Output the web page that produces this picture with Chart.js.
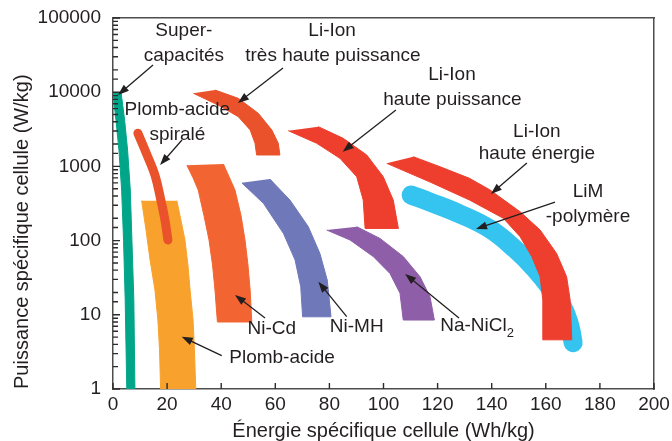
<!DOCTYPE html>
<html>
<head>
<meta charset="utf-8">
<script src="https://cdn.jsdelivr.net/npm/chart.js@4.4.1/dist/chart.umd.min.js"></script>
<style>
  html, body { margin: 0; padding: 0; background: #fff; }
  #wrap { width: 672px; height: 441px; }
</style>
</head>
<body>
<div id="wrap"><canvas id="ragone" width="672" height="441"></canvas></div>
<script>
// x : énergie spécifique (Wh/kg), y : puissance spécifique (W/kg)
const xTicks = [0, 20, 40, 60, 80, 100, 120, 140, 160, 180, 200];
const yTicks = [1, 10, 100, 1000, 10000, 100000];

// contours des zones : bord gauche de haut en bas, puis bord droit de bas en haut
const superCap = [[0, 9800], [1.1, 4200], [2.2, 1650], [3.2, 480], [3.9, 100], [4.5, 16], [5.1, 1],
  [8.1, 1], [7.7, 16], [7.0, 100], [6.4, 480], [5.4, 1650], [4.3, 4200], [3.0, 9800]];
const plombAcide = [[10.6, 345], [12.2, 139], [13.7, 55], [15.5, 21.6], [16.6, 8.5], [17.2, 3.4], [17.6, 1],
  [30.6, 1], [30.1, 3.4], [29.6, 8.5], [28.5, 21.6], [27.7, 47], [26.6, 102], [25.1, 190], [23.6, 345]];
const niCd = [[27.3, 1040], [29.6, 700], [31.5, 480], [33.6, 220], [35.5, 102], [36.8, 47], [37.7, 21.6], [38.6, 8],
  [51.3, 8], [50.7, 21.6], [49.9, 47], [48.8, 102], [47.3, 220], [45.1, 480], [40.8, 1080]];
const niMH = [[47.6, 600], [55.6, 318], [63, 125], [67.3, 55], [69.4, 24], [70.1, 9.4],
  [80.6, 9.4], [79.2, 29.4], [76.5, 67], [72.2, 154], [65.4, 352], [58, 676]];
const naNiCl2 = [[79, 139], [87.6, 102], [96.2, 61], [102.4, 36], [106.1, 19.5], [107.3, 8.5],
  [118.8, 8.5], [117.2, 17.5], [113.5, 32.6], [107.3, 61], [98.7, 107], [90.1, 154]];
const liIonTresHaute = [[29.7, 9660], [38.9, 6700], [46.3, 4680], [50.7, 3100], [52.5, 2050], [53.1, 1425],
  [61.7, 1425], [61.1, 2050], [58.7, 3100], [53.7, 5200], [46.3, 8270], [37.7, 10700]];
const liIonPuissance = [[64.8, 3030], [75.3, 2050], [83.9, 1285], [90.1, 726], [92.5, 352], [93.2, 146],
  [105.5, 146], [103.6, 352], [99.9, 726], [93.8, 1425], [85.1, 2390], [75.9, 3430]];
const liIonEnergie = [[111, 1350], [120.9, 990], [131.8, 690], [139.4, 481], [150.5, 245], [157.9, 139],
  [164, 67], [167.7, 32.6], [169, 15.8], [169.6, 4.6],
  [158.9, 4.6], [158.9, 15.8], [157.9, 32.6], [154.8, 61], [150.5, 113], [144.3, 200], [131.8, 352],
  [117.2, 616], [101.2, 1100]];

// bandes étroites : ligne médiane
const plombSpirale = [[9.2, 2800], [12.6, 1420], [15.5, 765], [17.7, 350], [19.2, 190], [20.3, 102]];
const limPolymere = [[110.2, 412], [117.2, 331], [128.3, 228], [139.4, 143], [148.6, 77], [156, 41.4],
  [161.9, 22.3], [166.4, 12.4], [168.9, 7.1], [170.1, 4.2]];

// étiquettes (centre du texte, en unités des axes)
const notes = [
  { text: 'Super-', x: 26.2, y: 66800 },
  { text: 'capacités', x: 26.2, y: 30760 },
  { text: 'Li-Ion', x: 81, y: 66800 },
  { text: 'très haute puissance', x: 81.3, y: 30760 },
  { text: 'Plomb-acide', x: 23.8, y: 5755 },
  { text: 'spiralé', x: 23.8, y: 2650 },
  { text: 'Li-Ion', x: 125.3, y: 17050 },
  { text: 'haute puissance', x: 125.5, y: 7850 },
  { text: 'Li-Ion', x: 156.7, y: 2953 },
  { text: 'haute énergie', x: 156.7, y: 1493 },
  { text: 'LiM', x: 175.6, y: 452 },
  { text: '-polymère', x: 175.6, y: 208 },
  { text: 'Ni-Cd', x: 58.7, y: 6.44 },
  { text: 'Ni-MH', x: 90.1, y: 6.85 },
  { text: 'Na-NiCl', sub: '2', x: 134.6, y: 7.06 },
  { text: 'Plomb-acide', x: 62.5, y: 2.62 }
];

// flèches : [x départ, y départ, x pointe, y pointe]
const arrows = [
  [14.8, 23270, 1.85, 9170],
  [62.85, 21190, 46.2, 7150],
  [25.5, 2270, 17.4, 1045],
  [104.6, 5755, 84.9, 1578],
  [153, 1111, 139.7, 425],
  [163.4, 331, 134.2, 143],
  [56.2, 9.06, 45.1, 18.5],
  [40.2, 2.81, 25.4, 5.07],
  [86.4, 9.43, 75.9, 27.9],
  [127.9, 9.06, 108, 35.5]
];

const ink = '#231f20';
const frame = '#4d4d4d';
const fontFamily = '"Liberation Sans", Arial, sans-serif';

function pts(list) {
  return list.map(([x, y]) => ({ x, y }));
}

function zone(label, list, color, order) {
  return {
    label, data: pts(list), showLine: true, fill: 'shape', order: order || 1,
    backgroundColor: color, borderColor: color, borderWidth: 1, pointRadius: 0, tension: 0
  };
}

function ribbon(label, list, color, width, order) {
  return {
    label, data: pts(list), showLine: true, fill: false, order: order || 1,
    borderColor: color, borderWidth: width, borderCapStyle: 'round', borderJoinStyle: 'round',
    pointRadius: 0, tension: 0.4
  };
}

function isMajor(v) {
  return yTicks.some(k => Math.abs(k - v) < k * 1e-6);
}

// graduations tournées vers l'intérieur, flèches et étiquettes
const notesPlugin = {
  id: 'notes',
  afterDatasetsDraw(chart) {
    const { ctx, chartArea } = chart;
    const xs = chart.scales.x, ys = chart.scales.y;
    ctx.save();

    ctx.strokeStyle = '#2b2b2b';
    ctx.lineWidth = 1.4;
    ctx.beginPath();
    xs.ticks.forEach(t => {
      const px = xs.getPixelForValue(t.value);
      ctx.moveTo(px, chartArea.bottom);
      ctx.lineTo(px, chartArea.bottom - 6);
    });
    ys.ticks.forEach(t => {
      const py = ys.getPixelForValue(t.value);
      const len = isMajor(t.value) ? 7 : 5;
      ctx.moveTo(chartArea.left, py);
      ctx.lineTo(chartArea.left + len, py);
    });
    ctx.stroke();

    ctx.strokeStyle = ink;
    ctx.fillStyle = ink;
    ctx.lineWidth = 1.3;
    arrows.forEach(a => {
      const x1 = xs.getPixelForValue(a[0]), y1 = ys.getPixelForValue(a[1]);
      const x2 = xs.getPixelForValue(a[2]), y2 = ys.getPixelForValue(a[3]);
      const ang = Math.atan2(y2 - y1, x2 - x1);
      const c = Math.cos(ang), s = Math.sin(ang);
      ctx.beginPath();
      ctx.moveTo(x1, y1);
      ctx.lineTo(x2 - 8 * c, y2 - 8 * s);
      ctx.stroke();
      ctx.beginPath();
      ctx.moveTo(x2, y2);
      ctx.lineTo(x2 - 11 * c - 4 * s, y2 - 11 * s + 4 * c);
      ctx.lineTo(x2 - 11 * c + 4 * s, y2 - 11 * s - 4 * c);
      ctx.closePath();
      ctx.fill();
    });

    ctx.textBaseline = 'middle';
    notes.forEach(n => {
      const cx = xs.getPixelForValue(n.x), cy = ys.getPixelForValue(n.y);
      ctx.font = '19px ' + fontFamily;
      if (!n.sub) {
        ctx.textAlign = 'center';
        ctx.fillText(n.text, cx, cy);
        return;
      }
      const w1 = ctx.measureText(n.text).width;
      ctx.font = '13px ' + fontFamily;
      const w2 = ctx.measureText(n.sub).width;
      const left = cx - (w1 + w2) / 2;
      ctx.textAlign = 'left';
      ctx.fillText(n.sub, left + w1, cy + 7);
      ctx.font = '19px ' + fontFamily;
      ctx.fillText(n.text, left, cy);
    });
    ctx.restore();
  }
};

Chart.defaults.font.family = fontFamily;
Chart.defaults.color = ink;

new Chart(document.getElementById('ragone'), {
  type: 'scatter',
  data: {
    datasets: [
      zone('Li-Ion haute énergie', liIonEnergie, '#ee3e2d', 1),
      ribbon('LiM-polymère', limPolymere, '#35c3ef', 19, 2),
      zone('Li-Ion haute puissance', liIonPuissance, '#ee3e2d'),
      zone('Li-Ion très haute puissance', liIonTresHaute, '#e9522a'),
      zone('Na-NiCl2', naNiCl2, '#8e5ea8'),
      zone('Ni-MH', niMH, '#6f78b8'),
      zone('Ni-Cd', niCd, '#f26532'),
      ribbon('Plomb-acide spiralé', plombSpirale, '#e9522a', 9),
      zone('Plomb-acide', plombAcide, '#f8a22d', 2),
      zone('Supercapacités', superCap, '#00a58a')
    ]
  },
  options: {
    responsive: false,
    animation: false,
    layout: { padding: 0 },
    plugins: { legend: { display: false }, tooltip: { enabled: false } },
    scales: {
      x: {
        type: 'linear', min: 0, max: 200,
        afterFit: s => { s.height = 52; },
        afterBuildTicks: s => { s.ticks = xTicks.map(v => ({ value: v })); },
        border: { color: frame, width: 1.5 },
        grid: { drawOnChartArea: false, drawTicks: false },
        ticks: { padding: 0, color: ink, font: { size: 19, lineHeight: 1.68 } },
        title: {
          display: true, text: 'Énergie spécifique cellule (Wh/kg)', color: ink,
          font: { size: 20, lineHeight: 1 }, padding: 0
        }
      },
      y: {
        type: 'logarithmic', min: 1, max: 100000,
        afterFit: s => { s.width = 113; },
        border: { color: frame, width: 1.5 },
        grid: { drawOnChartArea: false, drawTicks: false },
        ticks: {
          autoSkip: false, padding: 12, color: ink, font: { size: 19, lineHeight: 0.5 },
          callback: v => {
            const t = yTicks.find(k => Math.abs(k - v) < k * 1e-6);
            return t === undefined ? '' : String(t);
          }
        },
        title: {
          display: true, text: 'Puissance spécifique cellule (W/kg)', align: 'start', color: ink,
          font: { size: 20, lineHeight: 1 }, padding: { top: 12, bottom: 0 }
        }
      },
      x2: {
        type: 'linear', position: 'top', min: 0, max: 200,
        afterFit: s => { s.height = 18; },
        border: { color: frame, width: 1.5 },
        grid: { drawOnChartArea: false, drawTicks: false },
        ticks: { display: false }
      },
      y2: {
        type: 'linear', position: 'right', min: 0, max: 1,
        afterFit: s => { s.width = 18; },
        border: { color: frame, width: 1.5 },
        grid: { drawOnChartArea: false, drawTicks: false },
        ticks: { display: false }
      }
    }
  },
  plugins: [notesPlugin]
});
</script>
</body>
</html>
